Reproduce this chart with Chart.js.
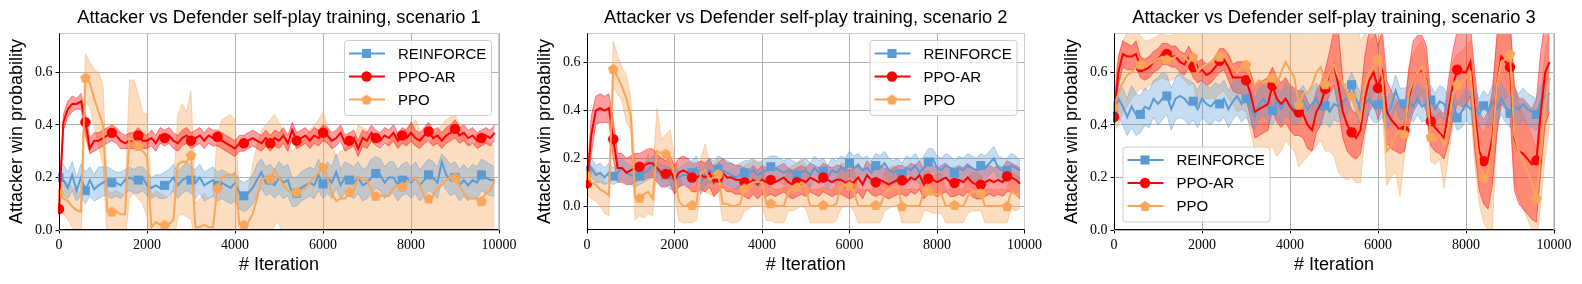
<!DOCTYPE html>
<html lang="en">
<head>
    <meta charset="UTF-8">
    <title>Attacker vs Defender self-play training</title>
    <script src="https://cdn.jsdelivr.net/npm/chart.js"></script>
    <style>
        body { margin: 0; background: #fff; width: 1582px; height: 284px; overflow: hidden; position: relative; }
        canvas { position: absolute; top: 0; }
    </style>
</head>
<body>
<canvas id="chart1" width="530" height="284" style="left:0px"></canvas>
<canvas id="chart2" width="515" height="284" style="left:530px"></canvas>
<canvas id="chart3" width="537" height="284" style="left:1045px"></canvas>
<script>
    // x values: training iteration
    const iterations = [0,100,200,300,400,500,600,700,800,900,1000,1100,1200,1300,1400,1500,1600,1700,1800,1900,
        2000,2100,2200,2300,2400,2500,2600,2700,2800,2900,3000,3100,3200,3300,3400,3500,3600,3700,3800,3900,
        4000,4100,4200,4300,4400,4500,4600,4700,4800,4900,5000,5100,5200,5300,5400,5500,5600,5700,5800,5900,
        6000,6100,6200,6300,6400,6500,6600,6700,6800,6900,7000,7100,7200,7300,7400,7500,7600,7700,7800,7900,
        8000,8100,8200,8300,8400,8500,8600,8700,8800,8900,9000,9100,9200,9300,9400,9500,9600,9700,9800,9900];
    const xTicks = [0, 2000, 4000, 6000, 8000, 10000];
    const yTicks = [0, 0.2, 0.4, 0.6];
    const seriesNames = ['REINFORCE', 'PPO-AR', 'PPO'];

    // ---- scenario 1 ----
    const s1RfMean = [.20,.19,.16,.21,.15,.20,.15,.19,.155,.17, .18,.19,.18,.18,.17,.19,.20,.19,.19,.20, .17,.16,.17,.16,.17,.18,.20,.17,.19,.20, .19,.18,.20,.17,.18,.19,.17,.18,.17,.16, .18,.14,.13,.14,.16,.19,.22,.18,.19,.17, .20,.18,.19,.14,.14,.16,.17,.18,.17,.21, .175,.20,.18,.22,.17,.20,.19,.18,.20,.17, .18,.20,.215,.21,.18,.20,.20,.17,.19,.20, .18,.20,.17,.19,.21,.20,.18,.26,.21,.19, .20,.17,.19,.17,.19,.18,.21,.20,.19,.19];
    const s1RfLow = [.14,.13,.12,.15,.11,.13,.10,.13,.11,.12, .13,.13,.12,.13,.12,.14,.15,.14,.14,.15, .13,.12,.13,.12,.12,.13,.15,.12,.14,.15, .14,.12,.14,.11,.12,.13,.11,.12,.11,.10, .11,.08,.07,.08,.10,.13,.16,.13,.14,.12, .14,.12,.13,.09,.09,.11,.12,.13,.12,.15, .12,.14,.12,.16,.12,.14,.13,.12,.14,.11, .12,.14,.16,.15,.12,.14,.14,.11,.13,.14, .12,.14,.11,.13,.15,.14,.12,.19,.15,.13, .14,.11,.13,.11,.13,.12,.15,.14,.13,.13];
    const s1RfHigh = [.27,.25,.22,.26,.20,.25,.22,.24,.21,.24, .24,.24,.23,.22,.22,.23,.24,.23,.24,.24, .22,.20,.21,.21,.22,.23,.25,.22,.24,.26, .24,.23,.25,.22,.23,.24,.22,.23,.22,.21, .22,.19,.18,.19,.21,.25,.27,.24,.25,.23, .26,.24,.25,.20,.20,.22,.23,.24,.23,.27, .23,.26,.24,.29,.23,.26,.25,.24,.26,.23, .24,.27,.28,.27,.24,.26,.26,.23,.25,.26, .24,.26,.23,.25,.27,.26,.24,.29,.27,.25, .26,.23,.25,.23,.25,.24,.27,.26,.25,.24];
    const s1ArMean = [.08,.41,.46,.48,.48,.49,.41,.31,.34,.34, .35,.36,.37,.36,.34,.33,.34,.34,.36,.34, .34,.35,.33,.36,.35,.36,.34,.33,.35,.36, .34,.35,.36,.34,.36,.35,.355,.34,.33,.32, .31,.33,.33,.34,.35,.34,.33,.35,.33,.35, .34,.36,.33,.38,.34,.35,.36,.34,.36,.35, .37,.36,.34,.35,.37,.33,.34,.35,.31,.35, .34,.37,.35,.34,.36,.35,.37,.34,.36,.35, .37,.35,.34,.36,.375,.35,.36,.34,.36,.37, .385,.36,.37,.35,.36,.34,.35,.36,.35,.37];
    const s1ArLow = [.07,.38,.43,.45,.46,.46,.36,.29,.30,.31, .32,.33,.34,.33,.31,.31,.31,.31,.33,.31, .31,.32,.30,.33,.32,.33,.31,.30,.32,.33, .31,.32,.33,.31,.33,.32,.32,.31,.30,.29, .28,.30,.30,.31,.32,.31,.30,.32,.30,.32, .31,.33,.30,.35,.31,.32,.33,.31,.33,.32, .34,.33,.31,.32,.34,.30,.31,.32,.28,.32, .31,.34,.32,.31,.33,.32,.34,.31,.33,.32, .34,.32,.31,.33,.34,.32,.33,.31,.33,.34, .35,.33,.34,.32,.33,.31,.32,.33,.32,.34];
    const s1ArHigh = [.10,.44,.49,.51,.50,.52,.44,.35,.37,.37, .38,.39,.40,.39,.37,.36,.37,.37,.39,.37, .36,.38,.36,.39,.38,.39,.37,.36,.38,.39, .37,.38,.39,.37,.39,.38,.38,.37,.36,.35, .34,.36,.36,.37,.38,.37,.36,.38,.36,.38, .37,.39,.36,.41,.37,.38,.39,.37,.39,.38, .40,.39,.37,.38,.40,.36,.37,.38,.34,.38, .37,.40,.38,.37,.39,.38,.40,.37,.39,.38, .41,.38,.37,.39,.41,.38,.39,.37,.39,.40, .42,.39,.40,.38,.39,.37,.38,.39,.38,.40];
    const s1PpoMean = [.14,.12,.11,.09,.075,.07,.58,.56,.50,.45, .40,.07,.07,.07,.06,.06,.35,.34,.32,.30, .28,.01,.03,.02,.02,.02,.04,.25,.26,.26, .285,.01,.01,.02,.01,.01,.16,.20,.21,.21, .21,.02,.02,.03,.06,.12,.19,.20,.195,.23, .20,.17,.15,.14,.145,.15,.16,.18,.20,.22, .24,.20,.14,.11,.12,.12,.145,.15,.20,.19, .19,.15,.13,.13,.13,.13,.16,.17,.165,.18, .19,.20,.17,.13,.12,.13,.16,.17,.19,.20, .20,.17,.14,.12,.12,.12,.11,.14,.15,.19];
    const s1PpoLow = [.09,.06,.04,.01,-.05,-.05,.49,.47,.40,.32, .25,-.05,-.05,-.05,-.05,-.05,.12,.14,.12,.10, .05,-.05,-.05,-.05,-.05,-.05,-.05,.05,.06,.05, .04,-.05,-.05,-.05,-.05,-.05,-.05,-.05,-.05,-.05, -.05,-.05,-.05,-.05,-.05,-.05,-.05,-.05,-.05,.02, .03,-.05,-.05,-.05,-.05,-.05,-.05,-.05,-.05,-.05, -.05,-.05,-.05,-.05,-.05,-.05,-.05,-.05,-.05,-.05, -.05,-.05,-.05,-.05,-.05,-.05,-.05,-.05,-.05,-.05, -.05,-.05,-.05,-.05,-.05,-.05,-.05,-.05,-.05,-.05, -.05,-.05,-.05,-.05,-.05,-.05,-.05,-.05,-.05,-.05];
    const s1PpoHigh = [.20,.19,.18,.16,.15,.14,.67,.64,.61,.60, .55,.15,.14,.15,.14,.13,.57,.57,.52,.45, .44,.13,.15,.14,.13,.12,.16,.44,.48,.45, .53,.10,.12,.14,.12,.13,.36,.42,.43,.44, .42,.14,.12,.15,.25,.32,.38,.40,.42,.44, .41,.37,.33,.30,.32,.33,.35,.38,.40,.42, .45,.40,.32,.28,.30,.31,.33,.34,.40,.39, .38,.34,.31,.30,.32,.33,.36,.37,.37,.39, .40,.42,.38,.35,.33,.35,.38,.40,.42,.43, .44,.40,.36,.33,.32,.34,.32,.34,.33,.32];

    // ---- scenario 2 ----
    const s2RfMean = [.15,.16,.13,.14,.12,.14,.125,.14,.16,.14, .13,.12,.125,.14,.15,.17,.15,.13,.13,.12, .11,.12,.13,.13,.14,.16,.10,.13,.15,.14, .155,.15,.14,.13,.12,.13,.14,.14,.15,.13, .14,.15,.165,.16,.15,.14,.15,.14,.13,.14, .15,.13,.16,.14,.146,.12,.15,.14,.16,.15, .18,.16,.17,.15,.16,.14,.17,.16,.18,.15, .14,.15,.135,.16,.15,.17,.14,.16,.185,.20, .16,.15,.17,.16,.14,.16,.15,.17,.16,.15, .17,.16,.18,.20,.16,.15,.15,.17,.16,.15];
    const s2RfLow = [.11,.12,.10,.10,.09,.10,.09,.10,.11,.10, .09,.08,.09,.10,.11,.12,.11,.08,.09,.07, .07,.08,.09,.08,.09,.10,.05,.08,.10,.09, .10,.10,.09,.08,.07,.08,.09,.09,.10,.08, .09,.10,.11,.11,.10,.09,.10,.09,.08,.09, .10,.08,.11,.09,.10,.07,.10,.09,.11,.10, .13,.11,.12,.10,.11,.09,.12,.11,.13,.10, .09,.10,.09,.11,.10,.12,.09,.11,.13,.15, .11,.10,.12,.11,.09,.11,.10,.12,.11,.10, .12,.11,.13,.15,.11,.10,.10,.12,.11,.10];
    const s2RfHigh = [.19,.20,.17,.18,.16,.18,.16,.18,.20,.18, .17,.16,.17,.18,.19,.21,.19,.17,.17,.16, .15,.16,.17,.18,.19,.21,.15,.17,.20,.19, .21,.20,.19,.18,.17,.18,.19,.19,.20,.18, .19,.20,.21,.21,.20,.19,.20,.19,.18,.19, .20,.18,.21,.19,.20,.17,.20,.19,.21,.20, .23,.21,.22,.20,.21,.19,.22,.21,.23,.20, .19,.20,.18,.21,.20,.22,.19,.21,.24,.24, .21,.20,.22,.21,.19,.21,.20,.22,.21,.20, .22,.21,.23,.25,.21,.20,.20,.22,.21,.19];
    const s2ArMean = [.095,.30,.40,.41,.40,.41,.28,.16,.16,.14, .15,.16,.165,.17,.18,.18,.16,.14,.135,.15, .11,.14,.15,.14,.12,.12,.13,.12,.14,.10, .12,.14,.12,.12,.11,.11,.10,.09,.11,.09, .11,.10,.11,.10,.11,.12,.10,.09,.10,.11, .10,.12,.11,.10,.12,.11,.10,.11,.11,.10, .087,.10,.12,.09,.13,.11,.10,.11,.10,.09, .10,.11,.108,.10,.12,.11,.13,.09,.115,.11, .10,.11,.12,.10,.097,.11,.10,.12,.10,.09, .09,.10,.11,.10,.11,.10,.125,.12,.11,.094];
    const s2ArLow = [.07,.22,.34,.35,.35,.35,.20,.10,.10,.09, .09,.10,.11,.11,.12,.12,.10,.08,.08,.09, .05,.08,.09,.08,.06,.06,.07,.06,.08,.04, .06,.08,.06,.06,.05,.05,.04,.03,.05,.03, .05,.04,.05,.04,.05,.06,.04,.03,.04,.05, .04,.06,.05,.04,.06,.05,.04,.05,.05,.04, .03,.04,.06,.03,.07,.05,.04,.05,.04,.03, .04,.05,.05,.04,.06,.05,.07,.03,.05,.05, .04,.05,.06,.04,.04,.05,.04,.06,.04,.03, .03,.04,.05,.04,.05,.04,.06,.06,.05,.03];
    const s2ArHigh = [.12,.38,.46,.47,.46,.47,.36,.22,.22,.20, .21,.22,.22,.23,.24,.24,.22,.20,.19,.21, .17,.20,.21,.20,.18,.18,.19,.18,.20,.16, .18,.20,.18,.18,.17,.17,.16,.15,.17,.15, .17,.16,.17,.16,.17,.18,.16,.15,.16,.17, .16,.18,.17,.16,.18,.17,.16,.17,.17,.16, .15,.16,.18,.15,.19,.17,.16,.17,.16,.15, .16,.17,.17,.16,.18,.17,.19,.15,.18,.17, .16,.17,.18,.16,.16,.17,.16,.18,.16,.15, .15,.16,.17,.16,.17,.16,.19,.18,.17,.16];
    const s2PpoMean = [.13,.10,.09,.07,.06,.045,.575,.54,.50,.45, .38,.04,.035,.05,.06,.03,.23,.22,.22,.20, .13,.02,0,0,.005,.01,.14,.15,.11,.12, .135,.01,.01,0,0,.01,.075,.09,.10,.10, .10,.01,.012,0,0,0,.06,.07,.08,.10, .08,0,0,0,.005,0,0,.01,.08,.09, .085,.06,0,0,0,0,.005,0,.05,.07, .08,.08,0,0,0,0,0,.06,.065,.05, .05,.05,0,0,.005,0,0,.04,.06,.06, .055,0,0,0,0,0,0,.06,.05,.05];
    const s2PpoLow = [.05,.03,.02,0,-.03,-.04,.50,.47,.44,.35, .32,-.06,-.04,-.05,-.03,-.04,.15,.13,.15,.10, .05,-.06,-.07,-.07,-.07,-.06,.06,.06,.05,.04, .06,-.06,-.06,-.07,-.07,-.06,-.02,-.01,0,0, 0,-.06,-.06,-.07,-.07,-.07,-.02,-.02,-.01,0, -.01,-.07,-.07,-.07,-.07,-.07,-.07,-.06,-.01,0, 0,-.02,-.07,-.07,-.07,-.07,-.07,-.07,-.02,-.01, 0,0,-.07,-.07,-.07,-.07,-.07,-.02,-.02,-.03, -.03,-.03,-.07,-.07,-.07,-.07,-.07,-.03,-.02,-.02, -.02,-.07,-.07,-.07,-.07,-.07,-.07,-.01,-.02,-.01];
    const s2PpoHigh = [.21,.17,.15,.13,.10,.09,.69,.63,.58,.55, .45,.16,.12,.16,.22,.13,.41,.28,.30,.32, .20,.13,.08,.08,.08,.09,.20,.26,.18,.17, .20,.09,.08,.07,.07,.09,.17,.18,.19,.19, .18,.09,.08,.07,.07,.08,.16,.17,.18,.20, .17,.07,.07,.07,.08,.07,.07,.09,.18,.18, .17,.15,.07,.07,.07,.07,.08,.07,.14,.16, .17,.16,.07,.07,.07,.07,.07,.14,.15,.13, .13,.14,.07,.07,.08,.07,.07,.12,.14,.14, .13,.07,.07,.07,.07,.07,.07,.14,.13,.12];

    // ---- scenario 3 ----
    const s3RfMean = [.44,.50,.47,.43,.47,.44,.44,.47,.46,.50, .48,.50,.51,.46,.50,.51,.50,.48,.49,.46, .50,.48,.47,.49,.48,.50,.46,.49,.51,.48, .50,.47,.43,.48,.50,.47,.455,.49,.46,.50, .48,.46,.47,.49,.46,.48,.50,.46,.473,.45, .48,.47,.49,.50,.553,.50,.46,.48,.50,.47, .477,.49,.44,.47,.53,.48,.48,.49,.47,.50, .47,.48,.495,.46,.49,.48,.45,.49,.427,.45, .48,.46,.47,.44,.473,.45,.49,.46,.50,.47, .444,.47,.46,.48,.46,.45,.44,.49,.51,.52];
    const s3RfLow = [.40,.43,.40,.36,.39,.36,.37,.40,.39,.43, .40,.42,.44,.38,.42,.43,.42,.40,.42,.39, .43,.41,.40,.42,.41,.43,.39,.42,.44,.41, .43,.40,.38,.42,.44,.41,.40,.43,.40,.44, .42,.40,.41,.43,.40,.42,.44,.40,.41,.39, .42,.41,.43,.44,.50,.44,.40,.42,.44,.41, .41,.43,.38,.41,.47,.42,.42,.43,.41,.44, .41,.42,.44,.40,.43,.42,.39,.43,.38,.39, .42,.40,.41,.39,.41,.39,.43,.40,.44,.41, .39,.41,.40,.42,.40,.39,.38,.43,.45,.46];
    const s3RfHigh = [.48,.56,.54,.50,.55,.52,.51,.54,.53,.57, .58,.60,.59,.54,.58,.60,.58,.57,.56,.53, .57,.55,.54,.56,.55,.57,.53,.56,.58,.55, .57,.54,.50,.54,.56,.53,.51,.55,.52,.56, .54,.52,.53,.55,.52,.54,.56,.52,.53,.51, .54,.53,.55,.56,.60,.56,.52,.54,.56,.53, .54,.55,.50,.53,.59,.54,.54,.55,.53,.56, .53,.54,.55,.52,.55,.54,.51,.55,.48,.51, .54,.52,.53,.50,.53,.51,.55,.52,.56,.53, .50,.53,.52,.54,.52,.51,.50,.55,.57,.58];
    const s3ArMean = [.43,.60,.67,.66,.66,.67,.62,.61,.62,.64, .65,.67,.67,.66,.66,.64,.63,.66,.62,.60, .61,.59,.60,.62,.644,.65,.62,.58,.58,.58, .57,.52,.45,.46,.47,.48,.55,.50,.48,.50, .47,.45,.448,.44,.40,.38,.45,.48,.537,.60, .63,.55,.45,.40,.372,.35,.38,.50,.57,.60, .54,.60,.45,.42,.40,.38,.378,.50,.57,.60, .61,.57,.414,.39,.37,.35,.45,.55,.61,.60, .60,.64,.45,.30,.262,.27,.35,.55,.66,.64, .62,.35,.30,.29,.27,.25,.265,.45,.60,.64];
    const s3ArLow = [.40,.55,.62,.61,.61,.62,.58,.57,.58,.60, .61,.63,.63,.62,.62,.60,.59,.62,.58,.56, .57,.55,.56,.58,.60,.61,.57,.53,.52,.52, .50,.43,.35,.36,.37,.38,.46,.41,.39,.41, .38,.36,.36,.35,.31,.30,.37,.40,.46,.52, .55,.46,.35,.30,.28,.27,.29,.38,.45,.48, .42,.47,.33,.31,.30,.29,.30,.39,.45,.48, .49,.45,.32,.30,.29,.27,.33,.42,.48,.47, .47,.51,.30,.15,.10,.08,.17,.36,.48,.46, .44,.15,.10,.08,.06,.04,.03,.22,.40,.45];
    const s3ArHigh = [.47,.66,.72,.71,.70,.72,.66,.65,.66,.68, .69,.71,.71,.70,.70,.68,.67,.70,.66,.64, .65,.63,.64,.66,.69,.69,.67,.63,.64,.64, .64,.60,.55,.56,.57,.58,.62,.58,.56,.58, .55,.54,.53,.53,.49,.46,.53,.56,.61,.68, .76,.76,.57,.50,.46,.44,.50,.66,.76,.78, .70,.76,.57,.53,.50,.47,.46,.61,.72,.74, .74,.70,.51,.48,.46,.44,.57,.68,.76,.76, .76,.78,.60,.45,.42,.45,.53,.74,.84,.82, .80,.55,.50,.50,.48,.46,.50,.68,.80,.83];
    const s3PpoMean = [.47,.52,.56,.59,.60,.62,.63,.62,.63,.64, .65,.66,.65,.65,.66,.67,.66,.64,.66,.60, .62,.63,.64,.65,.66,.67,.64,.62,.60,.62, .63,.58,.55,.57,.56,.57,.58,.55,.60,.64, .61,.58,.477,.52,.52,.55,.60,.62,.555,.60, .63,.58,.56,.52,.51,.47,.42,.55,.60,.62, .65,.58,.30,.32,.36,.38,.365,.52,.57,.60, .62,.56,.355,.34,.36,.32,.40,.52,.555,.56, .58,.60,.40,.25,.20,.22,.32,.55,.64,.65, .67,.36,.30,.26,.22,.18,.12,.30,.48,.58];
    const s3PpoLow = [.38,.40,.45,.47,.50,.52,.54,.53,.55,.56, .57,.58,.57,.57,.58,.59,.57,.55,.56,.48, .50,.50,.50,.50,.52,.53,.50,.48,.45,.46, .45,.38,.30,.30,.28,.30,.32,.28,.30,.34, .32,.30,.24,.26,.28,.30,.32,.34,.30,.30, .28,.22,.20,.19,.20,.18,.18,.35,.48,.52, .56,.45,.17,.20,.22,.13,.28,.42,.47,.50, .52,.46,.26,.25,.27,.16,.28,.40,.44,.45, .46,.48,.25,.10,.03,0,0,.38,.48,.50, .52,.18,.12,.08,.04,0,-.05,.10,.28,.40];
    const s3PpoHigh = [.56,.66,.72,.75,.76,.76,.74,.72,.72,.73, .74,.75,.74,.74,.75,.76,.76,.76,.78,.74, .76,.78,.80,.82,.82,.83,.80,.78,.76,.78, .82,.80,.80,.82,.82,.84,.82,.80,.82,.84, .82,.80,.74,.76,.78,.80,.82,.82,.80,.84, .86,.86,.84,.82,.82,.80,.72,.75,.72,.73, .76,.72,.45,.44,.48,.50,.45,.62,.67,.70, .72,.66,.45,.43,.45,.42,.52,.64,.67,.68, .70,.72,.55,.40,.37,.42,.52,.72,.80,.80, .82,.54,.48,.44,.40,.36,.30,.50,.68,.76];

    // ---- styling ----
    const SANS = 'Liberation Sans';
    const SERIF = 'Liberation Serif';
    const BLUE = [91, 155, 213];
    const RED = [255, 0, 0];
    const ORANGE = [249, 166, 90];
    const markEvery = 6;

    function rgba(c, a) { return 'rgba(' + c[0] + ',' + c[1] + ',' + c[2] + ',' + a + ')'; }

    function pentagonImage(c, r) {
        const cv = document.createElement('canvas');
        const s = Math.ceil(2 * r + 2);
        cv.width = s; cv.height = s;
        const g = cv.getContext('2d');
        g.fillStyle = rgba(c, 1);
        g.beginPath();
        for (let k = 0; k < 5; k++) {
            const a = -Math.PI / 2 + k * 2 * Math.PI / 5;
            const px = s / 2 + r * Math.cos(a);
            const py = s / 2 + r * 0.1 + r * Math.sin(a);
            if (k === 0) g.moveTo(px, py); else g.lineTo(px, py);
        }
        g.closePath();
        g.fill();
        return cv;
    }

    const markers = [
        { color: BLUE, style: 'rect', radius: 6.4, bandAlpha: 0.35, order: 3 },
        { color: RED, style: 'circle', radius: 5.2, bandAlpha: 0.38, order: 2 },
        { color: ORANGE, style: pentagonImage(ORANGE, 5.6), radius: 5, bandAlpha: 0.38, order: 1 }
    ];

    function buildDatasets(means, lows, highs) {
        const out = [];
        // bands first (lower + upper pair, filled between)
        means.forEach((m, k) => {
            const mk = markers[k];
            out.push({ data: lows[k], borderColor: rgba(mk.color, 0.45), borderWidth: 1,
                pointRadius: 0, fill: false, order: 10, clip: 0 });
            out.push({ data: highs[k], borderColor: rgba(mk.color, 0.45), borderWidth: 1,
                backgroundColor: rgba(mk.color, mk.bandAlpha),
                pointRadius: 0, fill: '-1', order: 10, clip: 0 });
        });
        // mean lines with markers
        means.forEach((m, k) => {
            const mk = markers[k];
            out.push({
                label: seriesNames[k], data: m,
                borderColor: rgba(mk.color, 1), borderWidth: 2,
                pointStyle: mk.style, pointBackgroundColor: rgba(mk.color, 1), pointBorderWidth: 0,
                pointRadius: ctx => (ctx.dataIndex % markEvery === 0 ? mk.radius : 0),
                fill: false, order: mk.order, clip: 1,
                legendStyle: mk.style, legendRadius: mk.radius, legendColor: rgba(mk.color, 1)
            });
        });
        return out;
    }

    // gray top/right spines, black left/bottom spines on top of the data
    const framePlugin = {
        id: 'frame',
        afterDatasetsDraw(chart) {
            const { ctx, chartArea: a } = chart;
            const l = Math.round(a.left) + 0.5, r = Math.round(a.right) - 0.5;
            const t = Math.round(a.top) + 0.5, b = Math.round(a.bottom) - 0.5;
            ctx.save();
            ctx.lineWidth = 1;
            ctx.strokeStyle = '#cccccc';
            ctx.beginPath(); ctx.moveTo(l, t); ctx.lineTo(r, t); ctx.lineTo(r, b); ctx.stroke();
            ctx.strokeStyle = '#000000';
            ctx.beginPath(); ctx.moveTo(l, t); ctx.lineTo(l, b); ctx.lineTo(r, b); ctx.stroke();
            ctx.restore();
        }
    };

    // matplotlib-like framed legend inside the axes
    const boxLegend = {
        id: 'boxLegend',
        afterDraw(chart, args, opts) {
            const { ctx, chartArea: a } = chart;
            const w = 147, h = 75;
            const x = opts.corner === 'topright' ? a.right - 8 - w : a.left + 8.5;
            const y = opts.corner === 'topright' ? a.top + 7 : a.bottom - 8.5 - h;
            ctx.save();
            ctx.beginPath();
            if (ctx.roundRect) ctx.roundRect(x + 0.5, y + 0.5, w, h, 3); else ctx.rect(x + 0.5, y + 0.5, w, h);
            ctx.fillStyle = 'rgba(255,255,255,0.8)';
            ctx.fill();
            ctx.strokeStyle = '#cccccc';
            ctx.lineWidth = 1;
            ctx.stroke();
            const items = chart.data.datasets.filter(d => d.label);
            items.forEach((d, k) => {
                const cy = y + 13.5 + k * 23;
                ctx.strokeStyle = d.legendColor;
                ctx.lineWidth = 2;
                ctx.beginPath(); ctx.moveTo(x + 5, cy); ctx.lineTo(x + 41, cy); ctx.stroke();
                ctx.fillStyle = d.legendColor;
                Chart.helpers.drawPoint(ctx, { pointStyle: d.legendStyle, radius: d.legendRadius, rotation: 0, borderWidth: 0 }, x + 22.5, cy);
                ctx.fillStyle = '#000';
                ctx.font = '15px "' + SANS + '"';
                ctx.textBaseline = 'middle';
                ctx.textAlign = 'left';
                ctx.fillText(d.label, x + 54, cy + 1);
            });
            ctx.restore();
        }
    };

    function makeChart(id, title, yMin, yMax, yWidth, padRight, corner, means, lows, highs) {
        return new Chart(document.getElementById(id), {
            type: 'line',
            data: { labels: iterations, datasets: buildDatasets(means, lows, highs) },
            plugins: [framePlugin, boxLegend],
            options: {
                responsive: false,
                animation: false,
                events: [],
                layout: { padding: { left: 0, right: padRight, top: 0, bottom: 0 } },
                plugins: {
                    legend: { display: false },
                    tooltip: { enabled: false },
                    boxLegend: { corner: corner },
                    title: {
                        display: true, text: title, fullSize: false, color: '#000',
                        font: { family: SANS, size: 18.3, weight: 'normal' },
                        padding: { top: 6.8, bottom: 4.2 }
                    }
                },
                scales: {
                    x: {
                        type: 'linear', min: 0, max: 10000,
                        afterBuildTicks: s => { s.ticks = xTicks.map(v => ({ value: v })); },
                        afterFit: s => { s.height = 54; },
                        grid: { color: '#b0b0b0', lineWidth: 1, tickColor: '#000', tickLength: 3.5 },
                        border: { display: false },
                        ticks: { autoSkip: false, maxRotation: 0, padding: 3, color: '#000',
                            font: { family: SERIF, size: 14 }, callback: v => String(v) },
                        title: { display: true, text: '# Iteration', color: '#000',
                            font: { family: SANS, size: 18 }, padding: { top: 0, bottom: 8 } }
                    },
                    y: {
                        min: yMin, max: yMax,
                        afterBuildTicks: s => { s.ticks = yTicks.map(v => ({ value: v })); },
                        afterFit: s => { s.width = yWidth; },
                        grid: { color: '#b0b0b0', lineWidth: 1, tickColor: '#000', tickLength: 3.5 },
                        border: { display: false },
                        ticks: { padding: 3, color: '#000', font: { family: SERIF, size: 14 },
                            callback: v => v.toFixed(1) },
                        title: { display: true, text: 'Attacker win probability', color: '#000',
                            font: { family: SANS, size: 18 }, padding: { top: yWidth - 41.6 - 10.8, bottom: 0 } }
                    }
                }
            }
        });
    }

    makeChart('chart1', 'Attacker vs Defender self-play training, scenario 1', 0, 0.75, 59, 31, 'topright',
        [s1RfMean, s1ArMean, s1PpoMean], [s1RfLow, s1ArLow, s1PpoLow], [s1RfHigh, s1ArHigh, s1PpoHigh]);
    makeChart('chart2', 'Attacker vs Defender self-play training, scenario 2', -0.1, 0.725, 57, 18, 'topright',
        [s2RfMean, s2ArMean, s2PpoMean], [s2RfLow, s2ArLow, s2PpoLow], [s2RfHigh, s2ArHigh, s2PpoHigh]);
    makeChart('chart3', 'Attacker vs Defender self-play training, scenario 3', 0, 0.75, 69, 28, 'bottomleft',
        [s3RfMean, s3ArMean, s3PpoMean], [s3RfLow, s3ArLow, s3PpoLow], [s3RfHigh, s3ArHigh, s3PpoHigh]);
</script>
</body>
</html>
